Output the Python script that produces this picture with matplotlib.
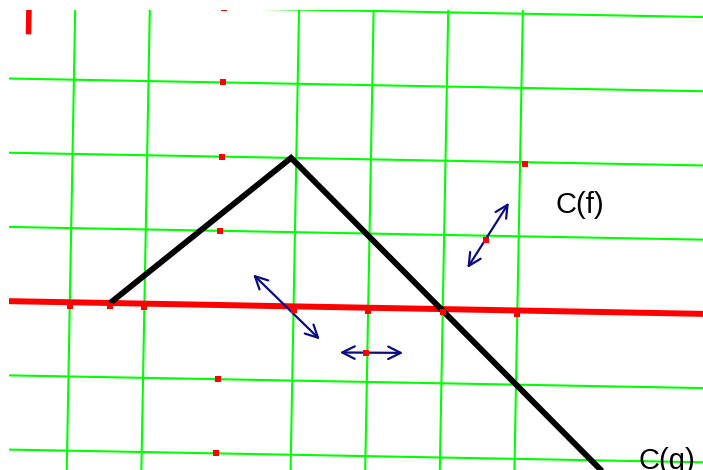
import matplotlib
matplotlib.use("Agg")
import matplotlib.pyplot as plt
from matplotlib.transforms import Affine2D

# ---- data (logical grid units) ----
grid_u = [-2, -1, 1, 2, 3, 4]          # vertical grid lines
grid_v = [-2, -1, 1, 2, 3, 4]          # horizontal grid lines
axis_u_range = [-3.6, 7.2]
grid_v_range = [-3.2, 4.6]

curve_u = [-1.46, 0.93, 5.6]
curve_v = [0.0, 2.0, -2.56]

arrow_start = [(0.45, 0.42), (1.63, -0.61), (3.32, 0.56)]
arrow_end = [(1.36, -0.44), (2.48, -0.60), (3.86, 1.45)]

yaxis_marks_v = [-2, -1, 1, 2, 3, 4]
xaxis_marks_u = [-2, -1, 1, 2, 3, 4, -1.46]
point_u = [4.07, 1.98, 3.56]
point_v = [1.97, -0.61, 0.94]

bar_u = [-2.62, -2.62]
bar_v = [3.60, 4.30]

labels = ["C(f)", "C(g)"]
label_u = [4.49, 5.66]
label_v = [1.32, -2.11]

# ---- figure ----
W, H = 703, 470
fig = plt.figure(figsize=(W / 100, H / 100), dpi=100)
ax = fig.add_axes([9 / W, 0, (W - 9) / W, (H - 10) / H])
ax.set_xlim(9, W)
ax.set_ylim(0, H - 10)
ax.axis("off")

trans = Affine2D().scale(74.6, 74.2).rotate_deg(-1.05).translate(219, 165) + ax.transData

green = "#00ff00"
red = "#ff0000"
navy = "#0c0c82"

for u in grid_u:
    ax.plot([u, u], grid_v_range, color=green, lw=1.5, transform=trans, zorder=1)
for v in grid_v:
    ax.plot(axis_u_range, [v, v], color=green, lw=1.5, transform=trans, zorder=1)

# x-axis (red)
ax.plot(axis_u_range, [0, 0], color=red, lw=4.3, transform=trans, zorder=2,
        solid_capstyle="butt")

# red bar top-left
ax.plot(bar_u, bar_v, color=red, lw=4.0, transform=trans, zorder=2,
        solid_capstyle="butt")

# black curve
ax.plot(curve_u, curve_v, color="black", lw=4.2, transform=trans, zorder=3,
        solid_joinstyle="miter", solid_capstyle="butt")

# arrows
for s, e in zip(arrow_start, arrow_end):
    ax.annotate("", xy=e, xytext=s, xycoords=trans, textcoords=trans,
                arrowprops=dict(arrowstyle="<->,head_length=0.5,head_width=0.25",
                                color=navy, lw=1.6, shrinkA=0, shrinkB=0,
                                mutation_scale=18),
                zorder=4)

# markers
ms = 3.8
ax.plot([0] * len(yaxis_marks_v), yaxis_marks_v, "s", color=red, ms=ms, mew=0,
        transform=trans, zorder=5)
ax.plot(xaxis_marks_u, [-0.045] * len(xaxis_marks_u), "s", color=red, ms=ms, mew=0,
        transform=trans, zorder=5)
ax.plot(point_u, point_v, "s", color=red, ms=ms, mew=0, transform=trans, zorder=5)

for t, u, v in zip(labels, label_u, label_v):
    ax.text(u, v, t, transform=trans, fontsize=21, family="Liberation Sans",
            ha="left", va="baseline", color="black", zorder=6)

fig.savefig("out.png", dpi=100)
